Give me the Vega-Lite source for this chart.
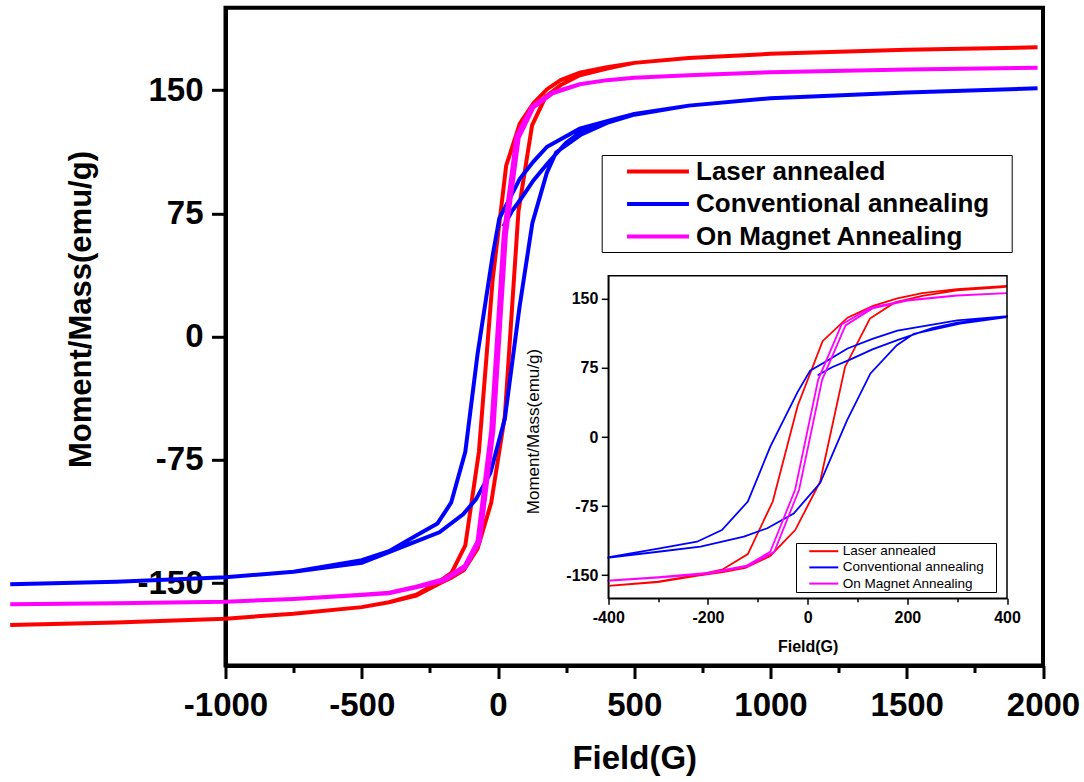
{
  "$schema": "https://vega.github.io/schema/vega-lite/v6.json",
  "autosize": {"type": "none"},
  "width": 817.5,
  "height": 657.7,
  "padding": {"left": 225.5, "top": 7.8, "right": 41, "bottom": 116.5},
  "background": "white",
  "config": {
    "font": "Liberation Sans",
    "view": {"stroke": "black", "strokeWidth": 4},
    "axis": {"grid": false, "labelFlush": false, "labelOverlap": false, "domainColor": "black", "tickColor": "black", "labelColor": "black", "titleColor": "black"}
  },
  "datasets": {
    "loops": [
      {"s":"Laser annealed","i":1,"H":1980,"M":176},{"s":"Laser annealed","i":2,"H":1500,"M":174.5},{"s":"Laser annealed","i":3,"H":1000,"M":172},{"s":"Laser annealed","i":4,"H":700,"M":169.5},{"s":"Laser annealed","i":5,"H":500,"M":166.5},{"s":"Laser annealed","i":6,"H":400,"M":163.8},{"s":"Laser annealed","i":7,"H":300,"M":160.5},{"s":"Laser annealed","i":8,"H":230,"M":156},{"s":"Laser annealed","i":9,"H":180,"M":150.5},{"s":"Laser annealed","i":10,"H":130,"M":142},{"s":"Laser annealed","i":11,"H":80,"M":129.5},{"s":"Laser annealed","i":12,"H":30,"M":104},{"s":"Laser annealed","i":13,"H":-20,"M":34},{"s":"Laser annealed","i":14,"H":-70,"M":-70},{"s":"Laser annealed","i":15,"H":-120,"M":-127},{"s":"Laser annealed","i":16,"H":-170,"M":-143.5},{"s":"Laser annealed","i":17,"H":-220,"M":-149.5},{"s":"Laser annealed","i":18,"H":-300,"M":-157},{"s":"Laser annealed","i":19,"H":-400,"M":-161.5},{"s":"Laser annealed","i":20,"H":-500,"M":-164.5},{"s":"Laser annealed","i":21,"H":-750,"M":-168.5},{"s":"Laser annealed","i":22,"H":-1000,"M":-171.5},{"s":"Laser annealed","i":23,"H":-1400,"M":-173.8},{"s":"Laser annealed","i":24,"H":-1790,"M":-175.4},
      {"s":"Laser annealed","i":25,"H":-1400,"M":-173.8},{"s":"Laser annealed","i":26,"H":-1000,"M":-171.5},{"s":"Laser annealed","i":27,"H":-750,"M":-168.5},{"s":"Laser annealed","i":28,"H":-500,"M":-164.5},{"s":"Laser annealed","i":29,"H":-400,"M":-161.5},{"s":"Laser annealed","i":30,"H":-300,"M":-157.5},{"s":"Laser annealed","i":31,"H":-220,"M":-150.5},{"s":"Laser annealed","i":32,"H":-170,"M":-146.5},{"s":"Laser annealed","i":33,"H":-125,"M":-142},{"s":"Laser annealed","i":34,"H":-75,"M":-129},{"s":"Laser annealed","i":35,"H":-25,"M":-101},{"s":"Laser annealed","i":36,"H":25,"M":-48.5},{"s":"Laser annealed","i":37,"H":75,"M":76},{"s":"Laser annealed","i":38,"H":125,"M":128.5},{"s":"Laser annealed","i":39,"H":175,"M":146},{"s":"Laser annealed","i":40,"H":230,"M":153},{"s":"Laser annealed","i":41,"H":300,"M":159},{"s":"Laser annealed","i":42,"H":400,"M":163},{"s":"Laser annealed","i":43,"H":500,"M":166.5},{"s":"Laser annealed","i":44,"H":700,"M":169.5},{"s":"Laser annealed","i":45,"H":1000,"M":172},{"s":"Laser annealed","i":46,"H":1500,"M":174.5},{"s":"Laser annealed","i":47,"H":1980,"M":176},

      {"s":"Conventional annealing","i":1,"H":20,"M":67},{"s":"Conventional annealing","i":2,"H":50,"M":76},{"s":"Conventional annealing","i":3,"H":85,"M":84},{"s":"Conventional annealing","i":4,"H":130,"M":95},{"s":"Conventional annealing","i":5,"H":180,"M":105},{"s":"Conventional annealing","i":6,"H":250,"M":118},{"s":"Conventional annealing","i":7,"H":300,"M":124},{"s":"Conventional annealing","i":8,"H":400,"M":130.5},{"s":"Conventional annealing","i":9,"H":500,"M":135},{"s":"Conventional annealing","i":10,"H":700,"M":140.5},{"s":"Conventional annealing","i":11,"H":1000,"M":145},{"s":"Conventional annealing","i":12,"H":1500,"M":148.5},{"s":"Conventional annealing","i":13,"H":1980,"M":151},
      {"s":"Conventional annealing","i":14,"H":1500,"M":148.5},{"s":"Conventional annealing","i":15,"H":1000,"M":145},{"s":"Conventional annealing","i":16,"H":700,"M":140.5},{"s":"Conventional annealing","i":17,"H":500,"M":135.5},{"s":"Conventional annealing","i":18,"H":400,"M":131},{"s":"Conventional annealing","i":19,"H":300,"M":126.5},{"s":"Conventional annealing","i":20,"H":230,"M":120},{"s":"Conventional annealing","i":21,"H":180,"M":115.5},{"s":"Conventional annealing","i":22,"H":130,"M":106.5},{"s":"Conventional annealing","i":23,"H":80,"M":96},{"s":"Conventional annealing","i":24,"H":40,"M":83},{"s":"Conventional annealing","i":25,"H":5,"M":72},{"s":"Conventional annealing","i":26,"H":-20,"M":49},{"s":"Conventional annealing","i":27,"H":-75,"M":-10.5},{"s":"Conventional annealing","i":28,"H":-120,"M":-70},{"s":"Conventional annealing","i":29,"H":-172,"M":-101},{"s":"Conventional annealing","i":30,"H":-222,"M":-113.6},{"s":"Conventional annealing","i":31,"H":-300,"M":-121},{"s":"Conventional annealing","i":32,"H":-400,"M":-130.5},{"s":"Conventional annealing","i":33,"H":-500,"M":-136},{"s":"Conventional annealing","i":34,"H":-750,"M":-143},{"s":"Conventional annealing","i":35,"H":-1000,"M":-146.4},{"s":"Conventional annealing","i":36,"H":-1400,"M":-149},{"s":"Conventional annealing","i":37,"H":-1790,"M":-150.6},
      {"s":"Conventional annealing","i":38,"H":-1400,"M":-149},{"s":"Conventional annealing","i":39,"H":-1000,"M":-146.4},{"s":"Conventional annealing","i":40,"H":-750,"M":-143},{"s":"Conventional annealing","i":41,"H":-500,"M":-137.5},{"s":"Conventional annealing","i":42,"H":-400,"M":-131},{"s":"Conventional annealing","i":43,"H":-300,"M":-124.5},{"s":"Conventional annealing","i":44,"H":-215,"M":-119},{"s":"Conventional annealing","i":45,"H":-128,"M":-108},{"s":"Conventional annealing","i":46,"H":-81,"M":-99},{"s":"Conventional annealing","i":47,"H":-28,"M":-83},{"s":"Conventional annealing","i":48,"H":25,"M":-50},{"s":"Conventional annealing","i":49,"H":79,"M":18},{"s":"Conventional annealing","i":50,"H":126,"M":69},{"s":"Conventional annealing","i":51,"H":179,"M":99.6},{"s":"Conventional annealing","i":52,"H":213,"M":112},{"s":"Conventional annealing","i":53,"H":306,"M":123},{"s":"Conventional annealing","i":54,"H":400,"M":130},{"s":"Conventional annealing","i":55,"H":500,"M":135},{"s":"Conventional annealing","i":56,"H":700,"M":140.5},{"s":"Conventional annealing","i":57,"H":1000,"M":145},{"s":"Conventional annealing","i":58,"H":1500,"M":148.5},{"s":"Conventional annealing","i":59,"H":1980,"M":151},

      {"s":"On Magnet Annealing","i":1,"H":1980,"M":163.5},{"s":"On Magnet Annealing","i":2,"H":1500,"M":162.5},{"s":"On Magnet Annealing","i":3,"H":1000,"M":160.8},{"s":"On Magnet Annealing","i":4,"H":700,"M":159},{"s":"On Magnet Annealing","i":5,"H":500,"M":157.5},{"s":"On Magnet Annealing","i":6,"H":400,"M":156},{"s":"On Magnet Annealing","i":7,"H":300,"M":153.5},{"s":"On Magnet Annealing","i":8,"H":200,"M":148.5},{"s":"On Magnet Annealing","i":9,"H":125,"M":140},{"s":"On Magnet Annealing","i":10,"H":68,"M":122},{"s":"On Magnet Annealing","i":11,"H":21,"M":62},{"s":"On Magnet Annealing","i":12,"H":-25,"M":-57},{"s":"On Magnet Annealing","i":13,"H":-75,"M":-124.5},{"s":"On Magnet Annealing","i":14,"H":-122,"M":-139.5},{"s":"On Magnet Annealing","i":15,"H":-200,"M":-147.5},{"s":"On Magnet Annealing","i":16,"H":-300,"M":-152},{"s":"On Magnet Annealing","i":17,"H":-400,"M":-155.8},{"s":"On Magnet Annealing","i":18,"H":-500,"M":-157},{"s":"On Magnet Annealing","i":19,"H":-750,"M":-159.5},{"s":"On Magnet Annealing","i":20,"H":-1000,"M":-161.2},{"s":"On Magnet Annealing","i":21,"H":-1400,"M":-162.2},{"s":"On Magnet Annealing","i":22,"H":-1790,"M":-162.8},
      {"s":"On Magnet Annealing","i":23,"H":-1400,"M":-162.2},{"s":"On Magnet Annealing","i":24,"H":-1000,"M":-161.2},{"s":"On Magnet Annealing","i":25,"H":-750,"M":-159.5},{"s":"On Magnet Annealing","i":26,"H":-500,"M":-157.2},{"s":"On Magnet Annealing","i":27,"H":-400,"M":-156},{"s":"On Magnet Annealing","i":28,"H":-300,"M":-152.5},{"s":"On Magnet Annealing","i":29,"H":-200,"M":-148.5},{"s":"On Magnet Annealing","i":30,"H":-120,"M":-140.5},{"s":"On Magnet Annealing","i":31,"H":-67,"M":-124.5},{"s":"On Magnet Annealing","i":32,"H":-17,"M":-57},{"s":"On Magnet Annealing","i":33,"H":29,"M":62},{"s":"On Magnet Annealing","i":34,"H":76,"M":121},{"s":"On Magnet Annealing","i":35,"H":130,"M":139.5},{"s":"On Magnet Annealing","i":36,"H":200,"M":148},{"s":"On Magnet Annealing","i":37,"H":300,"M":153.5},{"s":"On Magnet Annealing","i":38,"H":400,"M":156},{"s":"On Magnet Annealing","i":39,"H":500,"M":157.5},{"s":"On Magnet Annealing","i":40,"H":700,"M":159},{"s":"On Magnet Annealing","i":41,"H":1000,"M":160.8},{"s":"On Magnet Annealing","i":42,"H":1500,"M":162.5},{"s":"On Magnet Annealing","i":43,"H":1980,"M":163.5}
    ]
  },
  "data": {"name": "loops"},
  "layer": [
    {
      "mark": {"type": "line", "strokeWidth": 4, "clip": false},
      "encoding": {
        "x": {
          "field": "H", "type": "quantitative",
          "scale": {"domain": [-1000, 2000], "nice": false, "zero": false},
          "axis": {
            "orient": "bottom", "values": [-1000, -500, 0, 500, 1000, 1500, 2000],
            "labelExpr": "'' + datum.value", "labelFontSize": 33, "labelFontWeight": "bold", "labelPadding": 10.5,
            "tickSize": 13, "tickWidth": 3, "domainWidth": 4,
            "title": "Field(G)", "titleFontSize": 33, "titleFontWeight": "bold", "titleBaseline": "alphabetic", "titleY": 102.5
          }
        },
        "y": {
          "field": "M", "type": "quantitative",
          "scale": {"domain": [-200, 200], "nice": false, "zero": false},
          "axis": {
            "orient": "left", "values": [-150, -75, 0, 75, 150],
            "labelExpr": "'' + datum.value", "labelFontSize": 33, "labelFontWeight": "bold", "labelPadding": 8.5,
            "tickSize": 14, "tickWidth": 3, "domainWidth": 4,
            "title": "Moment/Mass(emu/g)", "titleFontSize": 31, "titleFontWeight": "bold", "titleAngle": 270,
            "titleBaseline": "alphabetic", "titleAlign": "center", "titleX": -135.5, "titleY": 301.2
          }
        },
        "color": {
          "field": "s", "type": "nominal",
          "scale": {"domain": ["Laser annealed", "Conventional annealing", "On Magnet Annealing"], "range": ["#ff0000", "#0000ff", "#ff00ff"]},
          "legend": {
            "orient": "none", "legendX": 376.2, "legendY": 147.2, "title": null,
            "symbolType": "M-2.58,0H2.58", "symbolSize": 576, "symbolStrokeWidth": 4,
            "labelFontSize": 26, "labelFontWeight": "bold", "labelColor": "black", "labelLimit": 600,
            "labelExpr": "datum.label + '\u2800'",
            "padding": 2.5, "rowPadding": 5.5, "symbolOffset": 39.8, "labelOffset": 24,
            "strokeColor": "black"
          }
        },
        "order": {"field": "i", "type": "quantitative"}
      }
    },
    {
      "data": {"values": [{}]},
      "mark": {"type": "point", "opacity": 0},
      "encoding": {
        "x": {
          "datum": 0, "type": "quantitative",
          "scale": {"domain": [-1000, 2000], "nice": false, "zero": false},
          "axis": {"orient": "bottom", "values": [-750, -250, 250, 750, 1250, 1750], "labels": false, "domain": false, "tickSize": 7, "tickWidth": 3, "title": null, "grid": false}
        }
      }
    },
    {
      "data": {"values": [{}]},
      "mark": {"type": "point", "opacity": 0},
      "encoding": {
        "x": {
          "datum": 0, "type": "quantitative",
          "scale": {"domain": [-400, 400], "range": [382.8, 781.5], "nice": false, "zero": false},
          "axis": {"orient": "bottom", "offset": -67.2, "values": [-300, -100, 100, 300], "labels": false, "domain": false, "tickSize": 3.5, "tickWidth": 1.5, "title": null, "grid": false}
        }
      }
    },
    {
      "layer": [
        {
          "transform": [{"filter": "datum.H >= -400 && datum.H <= 400"}],
          "mark": {"type": "line", "strokeWidth": 1.8, "clip": false},
          "encoding": {
            "x": {
              "field": "H", "type": "quantitative",
              "scale": {"domain": [-400, 400], "range": [382.8, 781.5], "nice": false, "zero": false},
              "axis": {
                "orient": "bottom", "offset": -67.2, "values": [-400, -200, 0, 200, 400],
                "labelExpr": "'' + datum.value", "labelFontSize": 16, "labelFontWeight": "bold", "labelPadding": 4.8,
                "tickSize": 6, "tickWidth": 1.5, "domainWidth": 1.5,
                "title": "Field(G)", "titleFontSize": 16, "titleFontWeight": "bold", "titleBaseline": "alphabetic", "titleY": 53
              }
            },
            "y": {
              "field": "M", "type": "quantitative",
              "scale": {"domain": [-175, 175], "range": [590.5, 267.9], "nice": false, "zero": false},
              "axis": {
                "orient": "left", "offset": -382.8, "values": [-150, -75, 0, 75, 150],
                "labelExpr": "'' + datum.value", "labelFontSize": 16, "labelFontWeight": "bold", "labelPadding": 3.4,
                "tickSize": 7, "tickWidth": 1.5, "domainWidth": 1.5,
                "title": "Moment/Mass(emu/g)", "titleFontSize": 17, "titleFontWeight": "normal", "titleAngle": 270,
                "titleBaseline": "alphabetic", "titleAlign": "center", "titleX": -69.4, "titleY": 423.2
              }
            },
            "color": {
              "field": "s", "type": "nominal",
              "scale": {"domain": ["Laser annealed", "Conventional annealing", "On Magnet Annealing"], "range": ["#ff0000", "#0000ff", "#ff00ff"]},
              "legend": {
                "orient": "none", "legendX": 570.5, "legendY": 535.2, "title": null,
                "symbolType": "M-2.636,0H2.636", "symbolSize": 121, "symbolStrokeWidth": 2,
                "labelFontSize": 13.5, "labelFontWeight": "normal", "labelColor": "black", "labelLimit": 400,
                "labelExpr": "datum.label + '\u2800'",
                "padding": 1.45, "rowPadding": 1.2, "symbolOffset": 19.6, "labelOffset": 12.15,
                "strokeColor": "black"
              }
            },
            "order": {"field": "i", "type": "quantitative"}
          }
        },
        {
          "data": {"values": [{}]},
          "mark": {"type": "rect", "fill": "transparent", "stroke": "black", "strokeWidth": 1.5},
          "encoding": {
            "x": {"datum": -400, "type": "quantitative"},
            "x2": {"datum": 400},
            "y": {"datum": -175, "type": "quantitative"},
            "y2": {"datum": 175}
          }
        }
      ]
    }
  ],
  "resolve": {"scale": {"x": "independent", "y": "independent", "color": "independent"}}
}
